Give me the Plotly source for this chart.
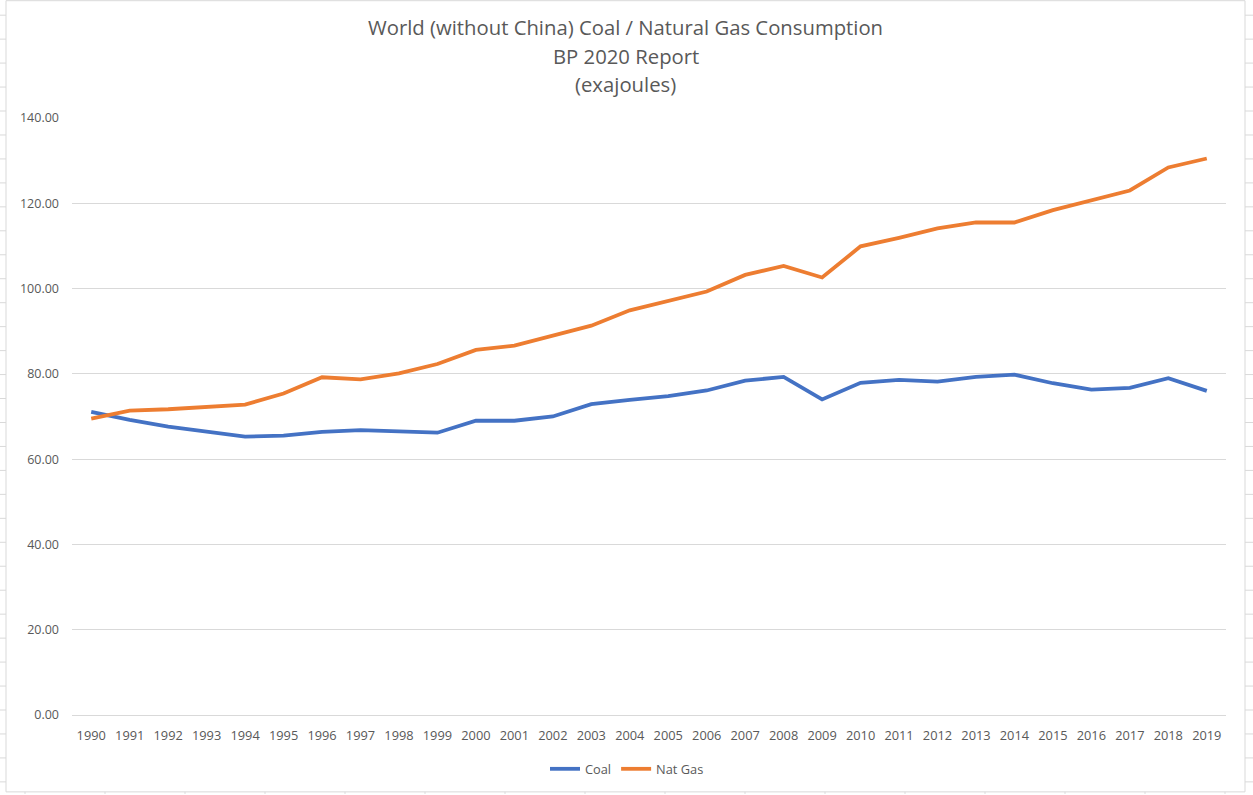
import plotly.graph_objects as go

years = [str(y) for y in range(1990, 2020)]
coal = [71.1, 69.2, 67.6, 66.4, 65.3, 65.5, 66.4, 66.8, 66.5, 66.2,
        69.0, 69.0, 70.0, 72.9, 73.9, 74.8, 76.1, 78.4, 79.3, 74.0,
        77.9, 78.6, 78.2, 79.3, 79.8, 77.8, 76.3, 76.7, 79.0, 76.0]
gas = [69.5, 71.4, 71.7, 72.3, 72.8, 75.4, 79.2, 78.7, 80.1, 82.3,
       85.6, 86.6, 88.9, 91.3, 94.9, 97.2, 99.3, 103.2, 105.3, 102.6,
       109.9, 111.9, 114.1, 115.5, 115.5, 118.4, 120.8, 123.0, 128.4, 130.5]
title_lines = ["World (without China) Coal / Natural Gas Consumption",
               "BP 2020 Report", "(exajoules)"]

W, H = 1253, 795
L, R, T, B = 72, 27, 118, 79
PW, PH = W - L - R, H - T - B
TXT = "#595959"
GRID = "#D9D9D9"
FONT = "Open Sans"


def px(x):
    return (x - L) / PW


def py(y):
    return (H - B - y) / PH


fig = go.Figure()
fig.add_trace(go.Scatter(x=years, y=coal, mode="lines", name="Coal",
                         line=dict(color="#4472C4", width=3.8)))
fig.add_trace(go.Scatter(x=years, y=gas, mode="lines", name="Nat Gas",
                         line=dict(color="#ED7D31", width=3.8)))

shapes = []
line_style = dict(color=GRID, width=1)
# chart border
shapes.append(dict(type="rect", xref="paper", yref="paper",
                   x0=px(6), x1=px(1245), y0=py(793), y1=py(0.5),
                   line=line_style, layer="below"))
# spreadsheet cell lines around the chart
for k in range(33):
    yy = 15 + 24 * k
    shapes.append(dict(type="line", xref="paper", yref="paper",
                       x0=px(0), x1=px(6), y0=py(yy), y1=py(yy), line=line_style))
    shapes.append(dict(type="line", xref="paper", yref="paper",
                       x0=px(1245), x1=px(1253), y0=py(yy), y1=py(yy), line=line_style))
for k in range(16):
    xx = 25 + 80 * k
    shapes.append(dict(type="line", xref="paper", yref="paper",
                       x0=px(xx), x1=px(xx), y0=py(793), y1=py(795), line=line_style))

annotations = []
for i, t in enumerate(title_lines):
    annotations.append(dict(text=t, xref="paper", yref="paper",
                            x=px(625.5), y=py(27 + 28.5 * i),
                            xanchor="center", yanchor="middle", showarrow=False,
                            font=dict(family=FONT, size=20.3, color=TXT)))

fig.update_layout(
    width=W, height=H,
    margin=dict(l=L, r=R, t=T, b=B),
    paper_bgcolor="white", plot_bgcolor="white",
    font=dict(family=FONT, size=12.5, color=TXT),
    shapes=shapes, annotations=annotations,
    showlegend=True,
    legend=dict(orientation="h", x=px(627), y=py(769), xanchor="center",
                yanchor="middle", font=dict(family=FONT, size=12.8, color=TXT),
                bgcolor="rgba(0,0,0,0)"),
)
fig.update_xaxes(type="category", range=[-0.5, 29.5], showgrid=False,
                 showline=False, zeroline=False, ticks="",
                 ticklabelstandoff=11, tickfont=dict(size=12.8, color=TXT))
fig.update_yaxes(range=[0, 140], dtick=20, tickformat=".2f", showgrid=True,
                 gridcolor=GRID, gridwidth=1, zeroline=True, zerolinecolor=GRID,
                 zerolinewidth=1, showline=False, ticks="",
                 ticklabelstandoff=12, tickfont=dict(size=12.5, color=TXT))

fig.write_html("out.html", config={"displayModeBar": False},
               post_script="document.body.style.margin='0';")
